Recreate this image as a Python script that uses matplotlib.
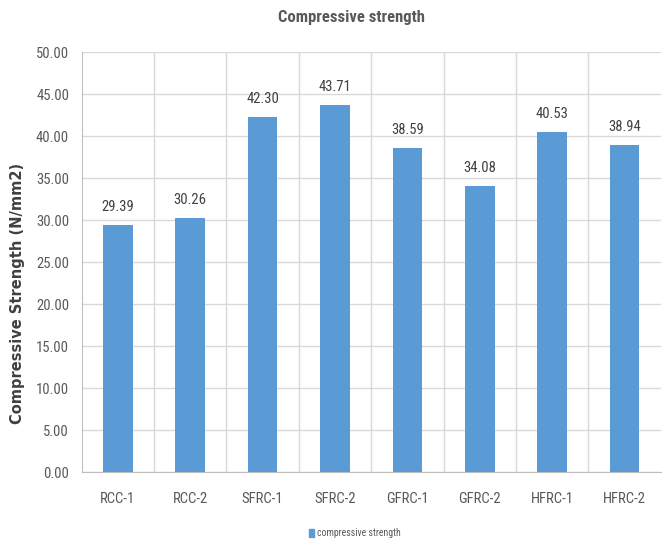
import matplotlib
matplotlib.use("Agg")
import matplotlib.pyplot as plt
from matplotlib import font_manager
from matplotlib.patches import Patch

mixes = ["RCC-1", "RCC-2", "SFRC-1", "SFRC-2", "GFRC-1", "GFRC-2", "HFRC-1", "HFRC-2"]
strength = [29.39, 30.26, 42.30, 43.71, 38.59, 34.08, 40.53, 38.94]
yticks = [0, 5, 10, 15, 20, 25, 30, 35, 40, 45, 50]

bar_color = "#5B9BD5"
grid_color = "#D9D9D9"
text_color = "#595959"

# prefer a condensed face for the tick and value labels
installed = {f.name for f in font_manager.fontManager.ttflist}
narrow_font = "Liberation Sans"
for cand in ["Liberation Sans Narrow", "DejaVu Sans Condensed", "Roboto Condensed"]:
    if cand in installed:
        narrow_font = cand
        break
narrow = [narrow_font, "DejaVu Sans"]
small = 9.5 if narrow_font == "Liberation Sans" else 10.5

fig = plt.figure(figsize=(6.64, 5.44), dpi=100)
ax = fig.add_axes([0.123, 0.132, 0.872, 0.772])

x = list(range(len(mixes)))
ax.bar(x, strength, width=0.41, color=bar_color, zorder=3)

for xi, v in zip(x, strength):
    ax.text(xi, v + 1.3, f"{v:.2f}", ha="center", va="bottom",
            fontsize=small, color="#404040", family=narrow)

ax.set_xlim(-0.5, len(mixes) - 0.5)
ax.set_ylim(0, 50)
ax.set_yticks(yticks)
ax.set_yticklabels([f"{t:.2f}" for t in yticks], family=narrow, fontsize=small, color=text_color)
ax.set_xticks(x)
ax.set_xticklabels(mixes, family=narrow, fontsize=small, color=text_color)

# category separators and value grid
ax.set_xticks([i + 0.5 for i in range(len(mixes) - 1)], minor=True)
ax.grid(axis="y", color=grid_color, linewidth=1, zorder=0)
ax.grid(axis="x", which="minor", color=grid_color, linewidth=1, zorder=0)
ax.tick_params(axis="both", which="both", length=0)
ax.tick_params(axis="x", pad=14)
ax.tick_params(axis="y", pad=9)

for side in ["top", "right"]:
    ax.spines[side].set_visible(False)
for side in ["left", "bottom"]:
    ax.spines[side].set_color("#BFBFBF")

fig.text(0.027, 0.461, "Compressive Strength (N/mm2)", rotation=90,
         ha="center", va="center", fontsize=10.5, fontweight="bold",
         color="#404040", family="DejaVu Sans")

fig.text(0.53, 0.967, "Compressive strength", ha="center", va="center",
         fontsize=small + 1.5, fontweight="bold", color=text_color, family=narrow)

fig.legend(handles=[Patch(color=bar_color, label="compressive strength")],
           loc="center", bbox_to_anchor=(0.535, 0.02), frameon=False,
           prop={"family": narrow, "size": 7}, handlelength=0.5, handleheight=0.9,
           handletextpad=0.3, labelcolor=text_color)

fig.savefig("out.png", dpi=100)
